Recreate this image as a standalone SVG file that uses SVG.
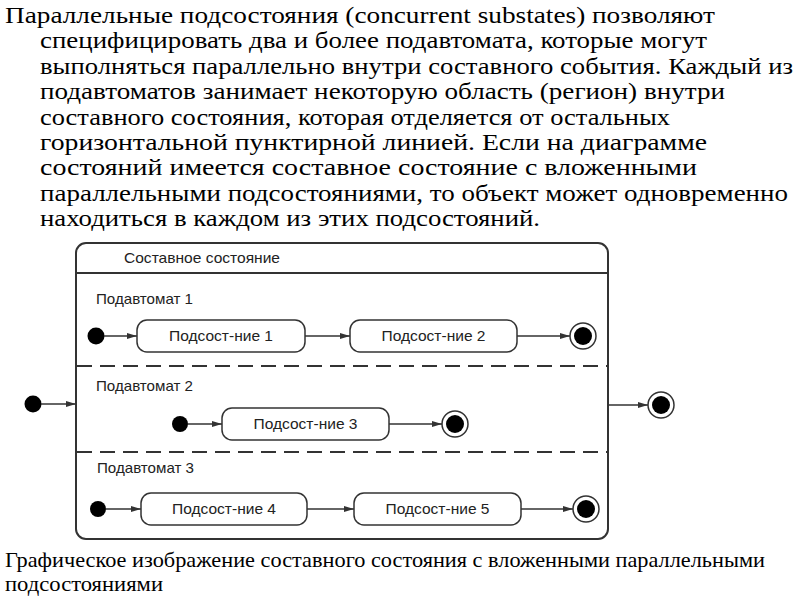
<svg xmlns="http://www.w3.org/2000/svg" width="800" height="600" viewBox="0 0 800 600">
<style>
.para{font-family:"Liberation Serif","DejaVu Serif","Times New Roman",serif;font-size:23px;fill:#000}
.cap{font-family:"Liberation Serif","DejaVu Serif","Times New Roman",serif;font-size:21px;fill:#000}
.lbl{font-family:"Liberation Sans",Arial,sans-serif;font-size:15px;fill:#222}
.box{fill:#fff;stroke:#333;stroke-width:1.5}
.frame{fill:#fff;stroke:#333;stroke-width:2}
.sep{stroke:#333;stroke-width:2;fill:none}
.dash{stroke:#333;stroke-width:2;stroke-dasharray:15 8;fill:none}
.edge{stroke:#333;stroke-width:1.5;fill:none;marker-end:url(#arr)}
.init{fill:#000}
.fo{fill:#fff;stroke:#333;stroke-width:1.5}
.fi{fill:#000}
</style>
<defs>
<marker id="arr" viewBox="0 0 10 8" refX="10" refY="4" markerWidth="10" markerHeight="8" markerUnits="userSpaceOnUse" orient="auto">
<path d="M0,1 L10,4 L0,7 Z" fill="#333"/>
</marker>
</defs>

<g id="paragraph">
<text class="para" x="5" y="23" textLength="710" lengthAdjust="spacingAndGlyphs">Параллельные подсостояния (concurrent substates)  позволяют</text>
<text class="para" x="40" y="48.4" textLength="667" lengthAdjust="spacingAndGlyphs">специфицировать два и более подавтомата, которые могут</text>
<text class="para" x="40" y="73.8" textLength="753" lengthAdjust="spacingAndGlyphs">выполняться параллельно внутри составного события. Каждый из</text>
<text class="para" x="40" y="99.2" textLength="685" lengthAdjust="spacingAndGlyphs">подавтоматов занимает некоторую область (регион) внутри</text>
<text class="para" x="40" y="124.6" textLength="630" lengthAdjust="spacingAndGlyphs">составного состояния, которая отделяется от остальных</text>
<text class="para" x="40" y="150" textLength="667" lengthAdjust="spacingAndGlyphs">горизонтальной пунктирной линией. Если на диаграмме</text>
<text class="para" x="40" y="175.4" textLength="657" lengthAdjust="spacingAndGlyphs">состояний имеется составное состояние с вложенными</text>
<text class="para" x="40" y="200.8" textLength="748" lengthAdjust="spacingAndGlyphs">параллельными подсостояниями, то объект может одновременно</text>
<text class="para" x="40" y="226.2" textLength="500" lengthAdjust="spacingAndGlyphs">находиться в каждом из этих подсостояний.</text>
</g>

<g id="composite">
<rect class="frame" x="76" y="243" width="532" height="296" rx="10" ry="10"/>
<line class="sep" x1="76" y1="273" x2="608" y2="273"/>
<line class="dash" x1="77" y1="366" x2="607" y2="366"/>
<line class="dash" x1="77" y1="452" x2="607" y2="452"/>
<text class="lbl" x="124" y="263" textLength="156" lengthAdjust="spacingAndGlyphs">Составное состояние</text>
<text class="lbl" x="96" y="304" textLength="97" lengthAdjust="spacingAndGlyphs">Подавтомат 1</text>
<text class="lbl" x="96" y="391" textLength="97" lengthAdjust="spacingAndGlyphs">Подавтомат 2</text>
<text class="lbl" x="97" y="473" textLength="97" lengthAdjust="spacingAndGlyphs">Подавтомат 3</text>
</g>

<g id="init-outer"><circle class="init" cx="33" cy="404" r="8.5"/></g>
<g id="final-outer"><circle class="fo" cx="661" cy="405" r="13"/><circle class="fi" cx="661" cy="405" r="9"/></g>

<g id="init1"><circle class="init" cx="96" cy="336" r="8.5"/></g>
<g id="s1"><rect class="box" x="137" y="320" width="168" height="32" rx="10"/><text class="lbl" x="221" y="341" text-anchor="middle" textLength="104" lengthAdjust="spacingAndGlyphs">Подсост-ние 1</text></g>
<g id="s2"><rect class="box" x="350" y="320" width="167" height="32" rx="10"/><text class="lbl" x="433.5" y="341" text-anchor="middle" textLength="104" lengthAdjust="spacingAndGlyphs">Подсост-ние 2</text></g>
<g id="final1"><circle class="fo" cx="583" cy="336" r="13"/><circle class="fi" cx="583" cy="336" r="9"/></g>

<g id="init2"><circle class="init" cx="180" cy="424" r="8"/></g>
<g id="s3"><rect class="box" x="222" y="408" width="167" height="32" rx="10"/><text class="lbl" x="305.5" y="429" text-anchor="middle" textLength="104" lengthAdjust="spacingAndGlyphs">Подсост-ние 3</text></g>
<g id="final2"><circle class="fo" cx="455" cy="424" r="13"/><circle class="fi" cx="455" cy="424" r="9"/></g>

<g id="init3"><circle class="init" cx="98" cy="509" r="8"/></g>
<g id="s4"><rect class="box" x="141" y="493" width="166" height="32" rx="10"/><text class="lbl" x="224" y="514" text-anchor="middle" textLength="104" lengthAdjust="spacingAndGlyphs">Подсост-ние 4</text></g>
<g id="s5"><rect class="box" x="354" y="493" width="167" height="32" rx="10"/><text class="lbl" x="437.5" y="514" text-anchor="middle" textLength="104" lengthAdjust="spacingAndGlyphs">Подсост-ние 5</text></g>
<g id="final3"><circle class="fo" cx="586" cy="509" r="13"/><circle class="fi" cx="586" cy="509" r="9"/></g>

<g id="connectors">
<line class="edge" x1="41" y1="404" x2="76" y2="404"/>
<line class="edge" x1="609" y1="405" x2="648" y2="405"/>
<line class="edge" x1="104" y1="336" x2="137" y2="336"/>
<line class="edge" x1="305" y1="336" x2="350" y2="336"/>
<line class="edge" x1="517" y1="336" x2="570" y2="336"/>
<line class="edge" x1="188" y1="424" x2="222" y2="424"/>
<line class="edge" x1="389" y1="424" x2="442" y2="424"/>
<line class="edge" x1="106" y1="509" x2="141" y2="509"/>
<line class="edge" x1="307" y1="509" x2="354" y2="509"/>
<line class="edge" x1="521" y1="509" x2="573" y2="509"/>
</g>

<g id="caption">
<text class="cap" x="5" y="567" textLength="760" lengthAdjust="spacingAndGlyphs">Графическое изображение составного состояния с вложенными параллельными</text>
<text class="cap" x="5" y="591" textLength="158" lengthAdjust="spacingAndGlyphs">подсостояниями</text>
</g>
</svg>
